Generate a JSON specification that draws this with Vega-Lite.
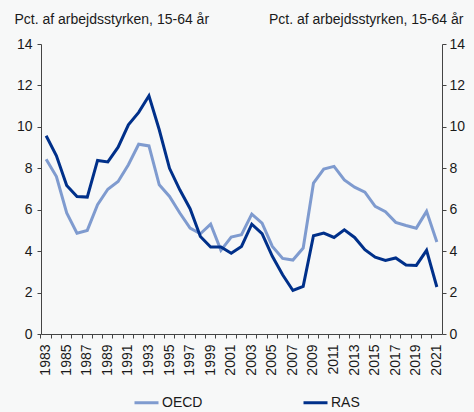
{
  "$schema": "https://vega.github.io/schema/vega-lite/v6.json",
  "autosize": {"type": "none"},
  "width": 401,
  "height": 290,
  "padding": {"left": 41, "top": 44, "right": 32, "bottom": 78},
  "background": "#f7f8f8",
  "config": {
    "view": {"stroke": null},
    "font": "Liberation Sans",
    "axis": {"labelFont": "Liberation Sans", "titleFont": "Liberation Sans", "labelFontSize": 14, "labelColor": "#1a1a1a", "domainColor": "#444444", "tickColor": "#444444", "grid": false}
  },
  "data": {
    "values": [
      {"year": 1983, "series": "OECD", "value": 8.44}, {"year": 1984, "series": "OECD", "value": 7.6}, {"year": 1985, "series": "OECD", "value": 5.84}, {"year": 1986, "series": "OECD", "value": 4.87}, {"year": 1987, "series": "OECD", "value": 5.0}, {"year": 1988, "series": "OECD", "value": 6.24}, {"year": 1989, "series": "OECD", "value": 6.99}, {"year": 1990, "series": "OECD", "value": 7.36}, {"year": 1991, "series": "OECD", "value": 8.17}, {"year": 1992, "series": "OECD", "value": 9.16}, {"year": 1993, "series": "OECD", "value": 9.08}, {"year": 1994, "series": "OECD", "value": 7.2}, {"year": 1995, "series": "OECD", "value": 6.64}, {"year": 1996, "series": "OECD", "value": 5.84}, {"year": 1997, "series": "OECD", "value": 5.11}, {"year": 1998, "series": "OECD", "value": 4.84}, {"year": 1999, "series": "OECD", "value": 5.3}, {"year": 2000, "series": "OECD", "value": 4.04}, {"year": 2001, "series": "OECD", "value": 4.68}, {"year": 2002, "series": "OECD", "value": 4.79}, {"year": 2003, "series": "OECD", "value": 5.79}, {"year": 2004, "series": "OECD", "value": 5.35}, {"year": 2005, "series": "OECD", "value": 4.23}, {"year": 2006, "series": "OECD", "value": 3.65}, {"year": 2007, "series": "OECD", "value": 3.57}, {"year": 2008, "series": "OECD", "value": 4.15}, {"year": 2009, "series": "OECD", "value": 7.28}, {"year": 2010, "series": "OECD", "value": 7.96}, {"year": 2011, "series": "OECD", "value": 8.09}, {"year": 2012, "series": "OECD", "value": 7.44}, {"year": 2013, "series": "OECD", "value": 7.09}, {"year": 2014, "series": "OECD", "value": 6.85}, {"year": 2015, "series": "OECD", "value": 6.16}, {"year": 2016, "series": "OECD", "value": 5.9}, {"year": 2017, "series": "OECD", "value": 5.39}, {"year": 2018, "series": "OECD", "value": 5.24}, {"year": 2019, "series": "OECD", "value": 5.11}, {"year": 2020, "series": "OECD", "value": 5.92}, {"year": 2021, "series": "OECD", "value": 4.44},
      {"year": 1983, "series": "RAS", "value": 9.57}, {"year": 1984, "series": "RAS", "value": 8.6}, {"year": 1985, "series": "RAS", "value": 7.17}, {"year": 1986, "series": "RAS", "value": 6.64}, {"year": 1987, "series": "RAS", "value": 6.61}, {"year": 1988, "series": "RAS", "value": 8.38}, {"year": 1989, "series": "RAS", "value": 8.31}, {"year": 1990, "series": "RAS", "value": 9.02}, {"year": 1991, "series": "RAS", "value": 10.1}, {"year": 1992, "series": "RAS", "value": 10.7}, {"year": 1993, "series": "RAS", "value": 11.5}, {"year": 1994, "series": "RAS", "value": 9.86}, {"year": 1995, "series": "RAS", "value": 8.0}, {"year": 1996, "series": "RAS", "value": 6.96}, {"year": 1997, "series": "RAS", "value": 6.05}, {"year": 1998, "series": "RAS", "value": 4.71}, {"year": 1999, "series": "RAS", "value": 4.2}, {"year": 2000, "series": "RAS", "value": 4.2}, {"year": 2001, "series": "RAS", "value": 3.9}, {"year": 2002, "series": "RAS", "value": 4.23}, {"year": 2003, "series": "RAS", "value": 5.3}, {"year": 2004, "series": "RAS", "value": 4.84}, {"year": 2005, "series": "RAS", "value": 3.75}, {"year": 2006, "series": "RAS", "value": 2.86}, {"year": 2007, "series": "RAS", "value": 2.1}, {"year": 2008, "series": "RAS", "value": 2.3}, {"year": 2009, "series": "RAS", "value": 4.74}, {"year": 2010, "series": "RAS", "value": 4.87}, {"year": 2011, "series": "RAS", "value": 4.66}, {"year": 2012, "series": "RAS", "value": 5.03}, {"year": 2013, "series": "RAS", "value": 4.66}, {"year": 2014, "series": "RAS", "value": 4.07}, {"year": 2015, "series": "RAS", "value": 3.71}, {"year": 2016, "series": "RAS", "value": 3.55}, {"year": 2017, "series": "RAS", "value": 3.67}, {"year": 2018, "series": "RAS", "value": 3.33}, {"year": 2019, "series": "RAS", "value": 3.31}, {"year": 2020, "series": "RAS", "value": 4.04}, {"year": 2021, "series": "RAS", "value": 2.27}
    ]
  },
  "encoding": {
    "x": {
      "field": "year", "type": "ordinal", "bandPosition": 0.5,
      "scale": {"type": "band", "paddingInner": 0, "paddingOuter": 0},
      "axis": {"title": null, "labelAngle": -90, "labelAlign": "right", "labelBaseline": "middle", "bandPosition": 0, "tickSize": 4, "labelPadding": 6, "labelExpr": "datum.value % 2 == 1 ? datum.label : ''", "labelOverlap": false}
    }
  },
  "layer": [
    {
      "mark": {"type": "line", "strokeWidth": 3},
      "encoding": {
        "y": {"field": "value", "type": "quantitative", "scale": {"domain": [0, 14]},
          "axis": {"orient": "left", "values": [0, 2, 4, 6, 8, 10, 12, 14], "tickSize": 4, "labelPadding": 5,
            "title": "Pct. af arbejdsstyrken, 15-64 år", "titleAngle": 0, "titleX": -27, "titleY": -21, "titleAlign": "left", "titleBaseline": "alphabetic", "titleFontSize": 14, "titleFontWeight": "normal", "titleColor": "#1a1a1a"}},
        "color": {"field": "series", "type": "nominal",
          "scale": {"domain": ["OECD", "RAS"], "range": ["#7f9bcf", "#00308a"]},
          "legend": {"title": null, "orient": "none", "legendX": 92, "legendY": 345, "direction": "horizontal", "symbolType": "stroke", "symbolSize": 576, "symbolStrokeWidth": 3, "labelFontSize": 14, "labelFont": "Liberation Sans", "labelColor": "#1a1a1a", "labelOffset": 2, "columnPadding": 94}}
      }
    },
    {
      "mark": {"type": "line", "strokeWidth": 3, "opacity": 0},
      "encoding": {
        "detail": {"field": "series"},
        "y": {"field": "value", "type": "quantitative", "scale": {"domain": [0, 14]},
          "axis": {"orient": "right", "values": [0, 2, 4, 6, 8, 10, 12, 14], "tickSize": 4, "labelPadding": 3,
            "title": "Pct. af arbejdsstyrken, 15-64 år", "titleAngle": 0, "titleX": 21, "titleY": -21, "titleAlign": "right", "titleBaseline": "alphabetic", "titleFontSize": 14, "titleFontWeight": "normal", "titleColor": "#1a1a1a"}}
      }
    }
  ],
  "resolve": {"scale": {"y": "independent"}}
}
